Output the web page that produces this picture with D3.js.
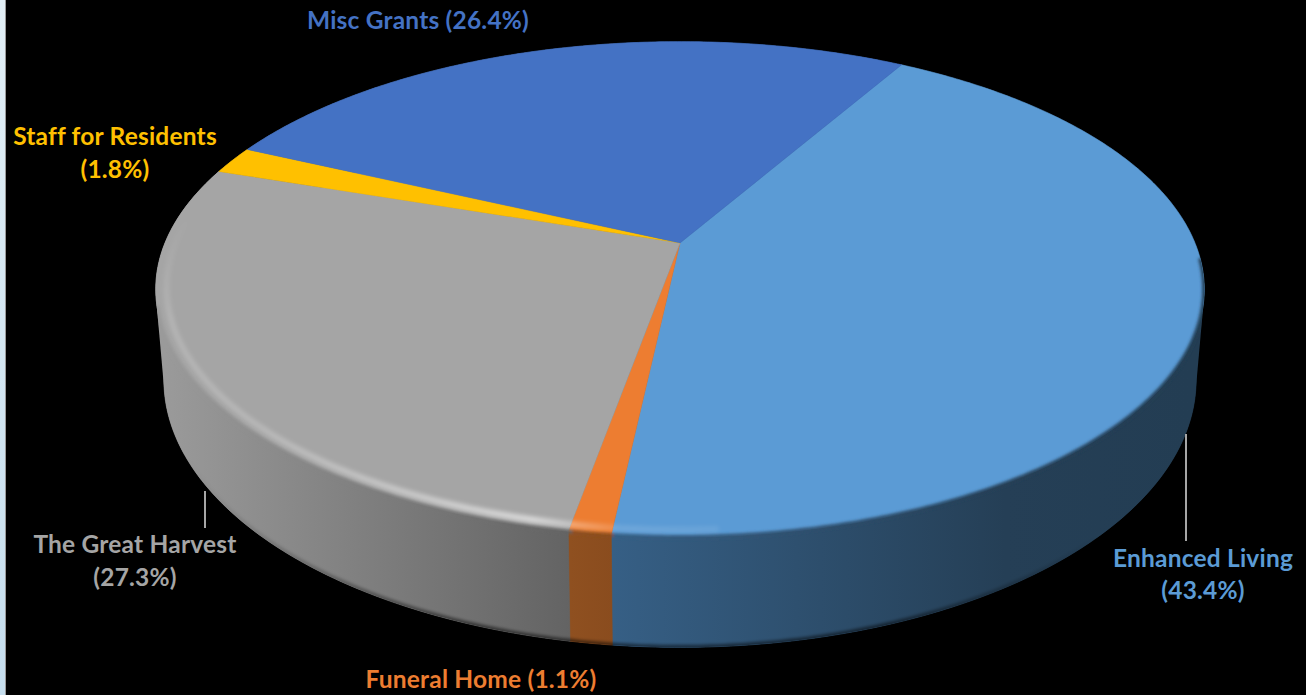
<!DOCTYPE html>
<html>
<head>
<meta charset="utf-8">
<style>
  html, body { margin: 0; padding: 0; background: #000; overflow: hidden; }
  svg { display: block; }
  text { font-family: Lato, "Open Sans", sans-serif; font-weight: 700; letter-spacing: 0.2px; }
</style>
<script src="https://cdn.jsdelivr.net/npm/d3@7/dist/d3.min.js"></script>
</head>
<body>
<svg id="chart" width="1306" height="695"></svg>
<script>
// Funding sources and their share of the total, in percent.
const categories = ["Enhanced Living", "Funeral Home", "The Great Harvest", "Staff for Residents", "Misc Grants"];
const shares = [43.4, 1.1, 27.3, 1.8, 26.4];
const faceColors = ["#5b9bd5", "#ed7d31", "#a5a5a5", "#ffc000", "#4472c4"];
const sideColorsNear = ["#365f85", "#8f5020", "#9a9a9a", "#8a6c00", "#2a4a80"];
const sideColorsFar = ["#233d53", "#8a4c1e", "#636363", "#8a6c00", "#2a4a80"];

// Text placement: one entry per category, one or two lines each.
const labelLayout = [
  { lines: (n, p) => [n, p], x: 1203, y: [567, 599] },
  { lines: (n, p) => [n + " " + p], x: 481, y: [688] },
  { lines: (n, p) => [n, p], x: 135, y: [553, 586] },
  { lines: (n, p) => [n, p], x: 115, y: [145, 178] },
  { lines: (n, p) => [n + " " + p], x: 418, y: [29] }
];
const leaders = [[[1186, 434], [1186, 541]], [[205, 491], [205, 528]]];

const svg = d3.select("#chart");
const defs = svg.append("defs");

// Perspective view of the disc: one plane for the top face, one for the base.
const k = 0.187;
const topPlane = { cx: 680, cy: 243, a: 515, b: 239 };
const basePlane = { cx: 680, cy: 330, a: 507, b: 258 };
function project(plane, angle, r = 1) {
  const u = r * Math.sin(angle), v = r * Math.cos(angle);
  const w = 1 + k * v;
  return [plane.cx + plane.a * u / w, plane.cy - plane.b * v / w];
}
function rim(plane, a0, a1, r = 1) {
  const n = Math.max(2, Math.ceil(Math.abs(a1 - a0) / 0.01));
  return d3.range(n + 1).map(i => project(plane, a0 + (a1 - a0) * i / n, r));
}

const line = d3.line();
const pie = d3.pie().sort(null).value(d => d)
  .startAngle(Math.PI / 6).endAngle(Math.PI / 6 + 2 * Math.PI);
const arcs = pie(shares);
const faceColor = d3.scaleOrdinal(categories, faceColors);

// Page edge strip on the far left.
const strip = defs.append("linearGradient").attr("id", "strip")
  .attr("x1", 0).attr("y1", 0).attr("x2", 0).attr("y2", 1);
strip.append("stop").attr("offset", 0).attr("stop-color", "#e2eff6");
strip.append("stop").attr("offset", 1).attr("stop-color", "#c6deee");
svg.append("rect").attr("width", 5).attr("height", 695).attr("fill", "url(#strip)");
svg.append("rect").attr("x", 5).attr("width", 1).attr("height", 695).attr("fill", "#9a9a9a");

// Wall of the disc, shaded left to right per slice.
const sideX = [[613, 1190], [570, 613], [165, 572], [165, 250], [250, 900]];
arcs.forEach((d, i) => {
  const g = defs.append("linearGradient").attr("id", "side" + i)
    .attr("gradientUnits", "userSpaceOnUse")
    .attr("x1", sideX[i][0]).attr("x2", sideX[i][1]).attr("y1", 0).attr("y2", 0);
  g.append("stop").attr("offset", 0).attr("stop-color", sideColorsNear[i]);
  if (i === 0) g.append("stop").attr("offset", 0.68).attr("stop-color", "#253f56");
  g.append("stop").attr("offset", 1).attr("stop-color", sideColorsFar[i]);
});

// The same shading as one ramp across the whole front of the disc.
const wallSpan = [155, 1205];
const wallStop = x => (x - wallSpan[0]) / (wallSpan[1] - wallSpan[0]);
const wallRamp = defs.append("linearGradient").attr("id", "wallRamp")
  .attr("gradientUnits", "userSpaceOnUse")
  .attr("x1", wallSpan[0]).attr("x2", wallSpan[1]).attr("y1", 0).attr("y2", 0);
[[165, sideColorsNear[2]], [572, sideColorsFar[2]], [572, sideColorsNear[1]], [613, sideColorsFar[1]],
 [613, sideColorsNear[0]], [1005, "#253f56"], [1190, sideColorsFar[0]]]
  .forEach(([x, c]) => wallRamp.append("stop").attr("offset", wallStop(x)).attr("stop-color", c));

defs.append("filter").attr("id", "soft").attr("x", "-5%").attr("y", "-5%").attr("width", "110%").attr("height", "110%")
  .append("feGaussianBlur").attr("stdDeviation", 2.6);
defs.append("filter").attr("id", "softer").attr("x", "-5%").attr("y", "-5%").attr("width", "110%").attr("height", "110%")
  .append("feGaussianBlur").attr("stdDeviation", 1.4);

// Outer silhouette of the wall, joining the two rims at their widest points.
const outline = d3.polygonHull(rim(topPlane, 0, 2 * Math.PI).concat(rim(basePlane, 0, 2 * Math.PI)));
svg.append("path").attr("d", line(outline) + "Z").attr("fill", "url(#wallRamp)");

const walls = svg.append("g");
arcs.forEach((d, i) => {
  const pts = rim(topPlane, d.startAngle, d.endAngle)
    .concat(rim(basePlane, d.endAngle, d.startAngle));
  walls.append("path").attr("d", line(pts) + "Z")
    .attr("fill", `url(#side${i})`)
    .attr("stroke", `url(#side${i})`).attr("stroke-width", 0.6);
});

// Darker lip along the lower edge of the wall, fading out towards both sides.
const lip = defs.append("linearGradient").attr("id", "lip")
  .attr("gradientUnits", "userSpaceOnUse").attr("x1", 155).attr("x2", 1205).attr("y1", 0).attr("y2", 0);
[[0.03, 0], [0.3, 0.5], [0.7, 0.5], [0.9, 0]]
  .forEach(([o, a]) => lip.append("stop").attr("offset", o).attr("stop-color", "#000").attr("stop-opacity", a));
const fullBase = rim(basePlane, Math.PI * 0.6, Math.PI * 1.4, 1);
defs.append("clipPath").attr("id", "wallClip").append("path")
  .attr("d", line(outline) + "Z");
svg.append("g").attr("clip-path", "url(#wallClip)").append("path")
  .attr("d", line(fullBase)).attr("fill", "none")
  .attr("stroke", "url(#lip)").attr("stroke-width", 5)
  .attr("filter", "url(#softer)");

// Top faces, then the bevel that rolls over the rim.
const faces = svg.append("g");
arcs.forEach((d, i) => {
  const pts = [project(topPlane, 0, 0)].concat(rim(topPlane, d.startAngle, d.endAngle));
  faces.append("path").attr("d", line(pts) + "Z")
    .attr("fill", faceColor(categories[i]))
    .attr("stroke", faceColor(categories[i])).attr("stroke-width", 0.4);
});

const sheen = defs.append("linearGradient").attr("id", "sheen")
  .attr("gradientUnits", "userSpaceOnUse").attr("x1", 155).attr("x2", 1205).attr("y1", 0).attr("y2", 0);
[[0, 0.2], [0.1, 0.26], [0.25, 0.5], [0.36, 0.72], [0.4, 0.4], [0.44, 0.16], [0.6, 0.08], [0.8, 0]]
  .forEach(([o, a]) => sheen.append("stop").attr("offset", o).attr("stop-color", "#fff").attr("stop-opacity", a));

// The highlight dies away towards the back of the disc.
const sheenFade = defs.append("linearGradient").attr("id", "sheenFade")
  .attr("gradientUnits", "userSpaceOnUse").attr("x1", 0).attr("x2", 0).attr("y1", 215).attr("y2", 320);
sheenFade.append("stop").attr("offset", 0).attr("stop-color", "#000");
sheenFade.append("stop").attr("offset", 1).attr("stop-color", "#fff");
defs.append("mask").attr("id", "sheenMask").attr("maskUnits", "userSpaceOnUse")
  .attr("x", 0).attr("y", 0).attr("width", 1306).attr("height", 695)
  .append("rect").attr("width", 1306).attr("height", 695).attr("fill", "url(#sheenFade)");

const bevel = svg.append("g").attr("clip-path", "url(#wallClip)");
// Face edge melts into the wall along the front of the disc.
bevel.append("path")
  .attr("d", line(rim(topPlane, Math.PI * 0.52, Math.PI * 1.42, 1.0)))
  .attr("fill", "none").attr("stroke", "url(#wallRamp)").attr("stroke-width", 4)
  .attr("filter", "url(#softer)");
bevel.append("g").attr("mask", "url(#sheenMask)").append("path")
  .attr("d", line(rim(topPlane, Math.PI * 0.98, Math.PI * 1.6, 0.98)))
  .attr("fill", "none").attr("stroke", "url(#sheen)").attr("stroke-width", 5)
  .attr("filter", "url(#soft)");

// Leader lines from the wall to the outside labels.
svg.append("g").selectAll("path").data(leaders).join("path")
  .attr("d", d => line(d)).attr("stroke", "#a6a6a6").attr("stroke-width", 2).attr("fill", "none");

// Category labels with their percentages.
const fmt = d3.format(".1f");
const labels = svg.append("g").attr("text-anchor", "middle").attr("font-size", 24.5);
categories.forEach((name, i) => {
  const spec = labelLayout[i];
  const rows = spec.lines(name, `(${fmt(shares[i])}%)`);
  rows.forEach((row, j) => {
    labels.append("text").attr("x", spec.x).attr("y", spec.y[j])
      .attr("fill", faceColor(name)).text(row);
  });
});
</script>
</body>
</html>
